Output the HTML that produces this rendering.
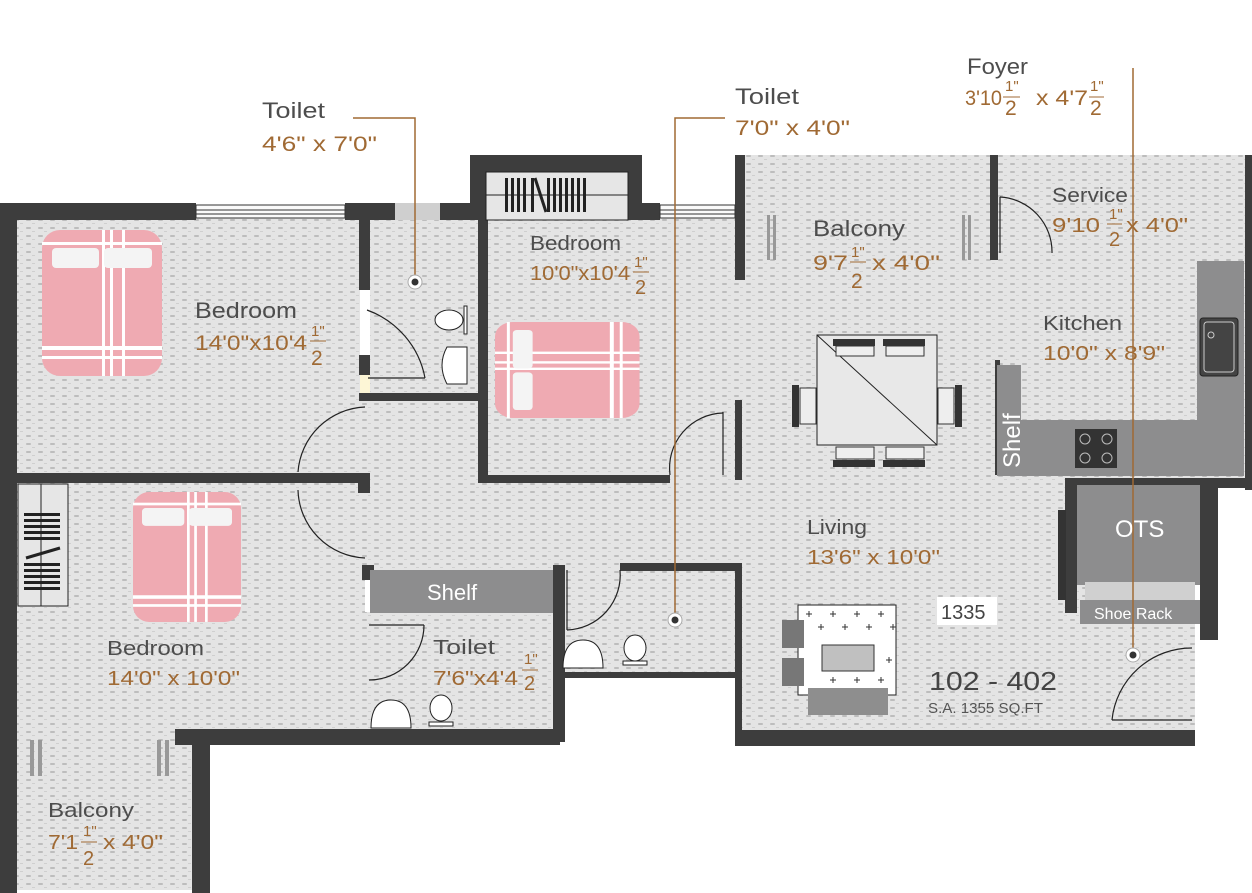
<!DOCTYPE html>
<html><head><meta charset="utf-8"><style>
html,body{margin:0;padding:0;background:#fff;width:1252px;height:893px;overflow:hidden}
svg{display:block;font-family:"Liberation Sans",sans-serif}
.n{fill:#4d4d4d;font-size:22px}
.d{fill:#a06a34;font-size:21px}
.f{fill:#a06a34;font-size:15px}
</style></head><body>
<svg width="1252" height="893" viewBox="0 0 1252 893">
<defs>
<pattern id="fl" width="12" height="8" patternUnits="userSpaceOnUse">
<rect width="12" height="8" fill="#e4e4e4"/>
<rect x="2" y="3" width="5" height="2" rx="1" fill="#bdbdbd"/>
<rect x="8" y="7" width="3" height="1" fill="#cfcfcf"/>
</pattern>
<g id="bedV">
<rect x="0" y="0" width="120" height="146" rx="18" fill="#efaab2"/>
<g fill="#fff"><rect x="0" y="12" width="120" height="3"/><rect x="0" y="116" width="120" height="4"/><rect x="0" y="126" width="120" height="3"/>
<rect x="60" y="0" width="3" height="146"/><rect x="68" y="0" width="3" height="146"/><rect x="80" y="0" width="3" height="146"/></g>
<rect x="10" y="18" width="47" height="20" rx="4" fill="#f4f4f4"/><rect x="62" y="18" width="48" height="20" rx="4" fill="#f4f4f4"/>
</g>
</defs>
<rect width="1252" height="893" fill="#fff"/>

<g fill="url(#fl)">
<rect x="15" y="218" width="350" height="262"/>
<rect x="365" y="218" width="115" height="265"/>
<rect x="485" y="218" width="255" height="262"/>
<rect x="15" y="480" width="725" height="90"/>
<rect x="15" y="570" width="350" height="170"/>
<rect x="362" y="612" width="195" height="130"/>
<rect x="557" y="565" width="183" height="112"/>
<rect x="740" y="155" width="505" height="325"/>
<rect x="740" y="480" width="455" height="258"/>
<rect x="15" y="740" width="178" height="150"/>
</g>

<g fill="#3d3d3d">
<rect x="0" y="203" width="196" height="17"/>
<rect x="345" y="203" width="50" height="17"/>
<rect x="440" y="203" width="32" height="17"/>
<rect x="470" y="155" width="172" height="65"/>
<rect x="628" y="203" width="32" height="17"/>
<rect x="0" y="203" width="17" height="690"/>
<rect x="359" y="218" width="11" height="72"/>
<rect x="359" y="355" width="11" height="20"/>
<rect x="359" y="393" width="125" height="8"/>
<rect x="478" y="218" width="10" height="265"/>
<rect x="480" y="475" width="190" height="8"/>
<rect x="735" y="155" width="10" height="125"/>
<rect x="735" y="400" width="7" height="80"/>
<rect x="15" y="473" width="345" height="10"/>
<rect x="358" y="473" width="12" height="20"/>
<rect x="362" y="565" width="12" height="15"/>
<rect x="175" y="729" width="385" height="16"/>
<rect x="192" y="740" width="18" height="153"/>
<rect x="553" y="565" width="12" height="62"/>
<rect x="553" y="627" width="12" height="115"/>
<rect x="620" y="563" width="120" height="8"/>
<rect x="560" y="672" width="180" height="6"/>
<rect x="735" y="563" width="7" height="182"/>
<rect x="735" y="730" width="460" height="16"/>
<rect x="990" y="155" width="8" height="105"/>
<rect x="1245" y="155" width="7" height="335"/>
<rect x="1070" y="478" width="180" height="10"/>
<rect x="1065" y="478" width="12" height="135"/>
<rect x="1200" y="478" width="18" height="162"/>
<rect x="995" y="360" width="5" height="115"/>
</g>
<rect x="360" y="290" width="10" height="65" fill="#fff"/>
<rect x="360" y="375" width="10" height="18" fill="#fdf6d6"/>
<rect x="395" y="203" width="45" height="17" fill="#cfcfcf"/>
<g fill="#fafafa" stroke="#333" stroke-width="1"><rect x="196" y="205" width="149" height="13"/><rect x="660" y="205" width="75" height="13"/></g>
<g stroke="#333"><line x1="196" y1="210" x2="345" y2="210"/><line x1="196" y1="214" x2="345" y2="214"/><line x1="660" y1="210" x2="735" y2="210"/><line x1="660" y1="214" x2="735" y2="214"/></g>
<rect x="486" y="172" width="142" height="48" fill="#e6e6e6" stroke="#222"/>
<line x1="486" y1="195" x2="628" y2="195" stroke="#222"/>
<g fill="#222"><rect x="505" y="178" width="3" height="34"/><rect x="511" y="178" width="3" height="34"/><rect x="517" y="178" width="3" height="34"/><rect x="523" y="178" width="3" height="34"/><rect x="531" y="178" width="3" height="34"/><rect x="547" y="178" width="3" height="34"/><rect x="553" y="178" width="3" height="34"/><rect x="559" y="178" width="3" height="34"/><rect x="565" y="178" width="3" height="34"/><rect x="571" y="178" width="3" height="34"/><rect x="577" y="178" width="3" height="34"/><rect x="583" y="178" width="3" height="34"/></g>
<line x1="535" y1="178" x2="546" y2="212" stroke="#222" stroke-width="3"/>
<rect x="18" y="484" width="50" height="122" fill="#e6e6e6" stroke="#222"/>
<line x1="41" y1="484" x2="41" y2="606" stroke="#222"/>
<g fill="#222"><rect x="24" y="513" width="36" height="3"/><rect x="24" y="519" width="36" height="3"/><rect x="24" y="525" width="36" height="3"/><rect x="24" y="531" width="36" height="3"/><rect x="24" y="537" width="36" height="3"/><rect x="24" y="563" width="36" height="3"/><rect x="24" y="569" width="36" height="3"/><rect x="24" y="575" width="36" height="3"/><rect x="24" y="581" width="36" height="3"/><rect x="24" y="587" width="36" height="3"/></g>
<line x1="26" y1="558" x2="60" y2="548" stroke="#222" stroke-width="3"/>

<use href="#bedV" x="42" y="230"/>
<g transform="translate(133,492) scale(0.9,0.89)"><use href="#bedV"/></g>
<g transform="translate(495,418) rotate(-90)"><g transform="scale(0.8,0.99)"><use href="#bedV"/></g></g>

<g fill="#999"><rect x="767" y="215" width="3" height="45"/><rect x="773" y="215" width="3" height="45"/><rect x="962" y="215" width="3" height="45"/><rect x="968" y="215" width="3" height="45"/>
<rect x="30" y="740" width="4" height="36"/><rect x="38" y="740" width="4" height="36"/><rect x="157" y="740" width="4" height="36"/><rect x="165" y="740" width="4" height="36"/></g>

<rect x="1197" y="261" width="47" height="215" fill="#8d8d8e"/>
<rect x="1000" y="420" width="244" height="56" fill="#8d8d8e"/>
<rect x="997" y="365" width="24" height="111" fill="#8d8d8e"/>
<rect x="1200" y="318" width="38" height="58" rx="3" fill="#444" stroke="#222"/>
<rect x="1204" y="322" width="30" height="50" rx="3" fill="none" stroke="#ccc"/>
<circle cx="1211" cy="335" r="3" fill="none" stroke="#ccc"/>
<rect x="1075" y="429" width="42" height="39" fill="#333"/>
<g fill="none" stroke="#bbb"><circle cx="1085" cy="439" r="5"/><circle cx="1107" cy="439" r="5"/><circle cx="1085" cy="458" r="5"/><circle cx="1107" cy="458" r="5"/></g>
<text transform="translate(1020,468) rotate(-90)" fill="#fff" font-size="24">Shelf</text>
<rect x="1077" y="485" width="123" height="100" fill="#8d8d8e"/>
<rect x="1085" y="582" width="110" height="18" fill="#d0d0d0"/>
<rect x="1080" y="600" width="120" height="24" fill="#8d8d8e"/>
<text x="1115" y="537" fill="#fff" font-size="24">OTS</text>
<text x="1094" y="619" fill="#fff" font-size="16">Shoe Rack</text>
<rect x="370" y="570" width="183" height="43" fill="#8d8d8e"/>
<text x="427" y="600" fill="#fff" font-size="22">Shelf</text>

<g fill="none" stroke="#222" stroke-width="1.2">
<path d="M367 310 A90 90 0 0 1 425 378"/><line x1="368" y1="378" x2="425" y2="378"/>
<path d="M365 407 A70 70 0 0 0 298 472"/><path d="M298 490 A70 70 0 0 0 365 558"/>
<path d="M723 413 A55 55 0 0 0 670 475"/><line x1="723" y1="412" x2="723" y2="475"/>
<line x1="369" y1="625" x2="424" y2="625"/><path d="M424 625 A55 55 0 0 1 369 680"/>
<line x1="567" y1="570" x2="567" y2="630"/><path d="M620 570 A55 55 0 0 1 567 630"/>
<line x1="1000" y1="197" x2="1000" y2="253"/><path d="M1000 197 A55 55 0 0 1 1052 253"/>
<line x1="1112" y1="720" x2="1192" y2="720"/><path d="M1192 648 A80 80 0 0 0 1112 720"/>
</g>
<g fill="#fff" stroke="#222"><ellipse cx="449" cy="320" rx="14" ry="10"/><rect x="464" y="306" width="3" height="28"/>
<path d="M467 347 L447 347 Q437 365 447 384 L467 384 Z"/>
<path d="M563 668 Q563 640 583 640 Q603 640 603 668 Z"/><ellipse cx="635" cy="648" rx="11" ry="13"/><rect x="623" y="661" width="24" height="4"/>
<path d="M371 728 Q371 700 391 700 Q411 700 411 728 Z"/><ellipse cx="441" cy="708" rx="11" ry="13"/><rect x="429" y="722" width="24" height="4"/>
<rect x="817" y="335" width="120" height="110" fill="#e8e8e8"/>
</g>
<line x1="817" y1="335" x2="937" y2="445" stroke="#222"/>
<g fill="#333"><rect x="833" y="339" width="42" height="7"/><rect x="883" y="339" width="42" height="7"/><rect x="833" y="460" width="42" height="7"/><rect x="883" y="460" width="42" height="7"/><rect x="792" y="385" width="7" height="42"/><rect x="955" y="385" width="7" height="42"/><rect x="1058" y="510" width="8" height="90"/></g>
<g fill="#eee" stroke="#333"><rect x="836" y="346" width="38" height="10"/><rect x="886" y="346" width="38" height="10"/><rect x="836" y="447" width="38" height="12"/><rect x="886" y="447" width="38" height="12"/><rect x="800" y="388" width="16" height="36"/><rect x="938" y="388" width="16" height="36"/></g>
<rect x="798" y="605" width="98" height="90" fill="#fff" stroke="#222"/>
<g stroke="#333" stroke-width="1"><path d="M806 614h6M809 611v6M830 614h6M833 611v6M854 614h6M857 611v6M878 614h6M881 611v6M818 627h6M821 624v6M842 627h6M845 624v6M866 627h6M869 624v6M890 627h6M893 624v6M886 660h6M889 657v6M830 680h6M833 677v6M854 680h6M857 677v6M878 680h6M881 677v6"/></g>
<rect x="822" y="645" width="52" height="26" fill="#c0c0c0" stroke="#333"/>
<rect x="808" y="688" width="80" height="27" fill="#8e8e8e"/>
<rect x="782" y="620" width="22" height="28" fill="#777"/><rect x="782" y="658" width="22" height="28" fill="#777"/>
<rect x="937" y="597" width="60" height="28" fill="#fff"/>
<text x="941" y="619" fill="#444" font-size="20">1335</text>
<text x="929" y="690" fill="#444" font-size="26" textLength="128" lengthAdjust="spacingAndGlyphs">102 - 402</text>
<text x="928" y="713" fill="#555" font-size="15" textLength="115" lengthAdjust="spacingAndGlyphs">S.A. 1355 SQ.FT</text>

<g stroke="#a06a34" stroke-width="1.5" fill="none">
<polyline points="353,118 415,118 415,282"/>
<polyline points="725,118 675,118 675,620"/>
<line x1="1133" y1="68" x2="1133" y2="655"/>
</g>
<g><circle cx="415" cy="282" r="7" fill="#fff" stroke="#aaa"/><circle cx="415" cy="282" r="3.5" fill="#333"/>
<circle cx="675" cy="620" r="7" fill="#fff" stroke="#aaa"/><circle cx="675" cy="620" r="3.5" fill="#333"/>
<circle cx="1133" cy="655" r="7" fill="#fff" stroke="#aaa"/><circle cx="1133" cy="655" r="3.5" fill="#333"/></g>

<g>
<text class="n" x="262" y="118" textLength="63" lengthAdjust="spacingAndGlyphs">Toilet</text>
<text class="d" x="262" y="151" textLength="115" lengthAdjust="spacingAndGlyphs">4'6" x 7'0"</text>
<text class="n" x="735" y="104" textLength="64" lengthAdjust="spacingAndGlyphs">Toilet</text>
<text class="d" x="735" y="135" textLength="115" lengthAdjust="spacingAndGlyphs">7'0" x 4'0"</text>
<text class="n" x="967" y="74" textLength="61" lengthAdjust="spacingAndGlyphs">Foyer</text>
<text class="d" x="965" y="105" textLength="37" lengthAdjust="spacingAndGlyphs">3'10</text>
<text class="f" x="1005" y="91">1"</text><line x1="1003" y1="97" x2="1020" y2="97" stroke="#a06a34"/><text class="d" x="1005" y="115">2</text>
<text class="d" x="1036" y="105" textLength="52" lengthAdjust="spacingAndGlyphs">x 4'7</text>
<text class="f" x="1090" y="91">1"</text><line x1="1089" y1="97" x2="1104" y2="97" stroke="#a06a34"/><text class="d" x="1090" y="115">2</text>

<text class="n" x="195" y="318" textLength="102" lengthAdjust="spacingAndGlyphs">Bedroom</text>
<text class="d" x="195" y="350" textLength="112" lengthAdjust="spacingAndGlyphs">14'0"x10'4</text>
<text class="f" x="311" y="336">1"</text><line x1="310" y1="341" x2="326" y2="341" stroke="#a06a34"/><text class="d" x="311" y="365">2</text>

<text class="n" x="530" y="250" textLength="91" lengthAdjust="spacingAndGlyphs" style="font-size:20px">Bedroom</text>
<text class="d" x="530" y="280" textLength="100" lengthAdjust="spacingAndGlyphs" style="font-size:20px">10'0"x10'4</text>
<text class="f" x="634" y="267">1"</text><line x1="633" y1="272" x2="649" y2="272" stroke="#a06a34"/><text class="d" x="635" y="294" style="font-size:20px">2</text>

<text class="n" x="813" y="236" textLength="92" lengthAdjust="spacingAndGlyphs">Balcony</text>
<text class="d" x="813" y="270" textLength="35" lengthAdjust="spacingAndGlyphs">9'7</text>
<text class="f" x="851" y="257">1"</text><line x1="850" y1="262" x2="866" y2="262" stroke="#a06a34"/><text class="d" x="851" y="288">2</text>
<text class="d" x="872" y="270" textLength="68" lengthAdjust="spacingAndGlyphs">x 4'0"</text>

<text class="n" x="1052" y="202" textLength="76" lengthAdjust="spacingAndGlyphs" style="font-size:20px">Service</text>
<text class="d" x="1052" y="232" textLength="48" lengthAdjust="spacingAndGlyphs" style="font-size:20px">9'10</text>
<text class="f" x="1109" y="219">1"</text><line x1="1107" y1="224" x2="1122" y2="224" stroke="#a06a34"/><text class="d" x="1109" y="246" style="font-size:20px">2</text>
<text class="d" x="1126" y="232" textLength="62" lengthAdjust="spacingAndGlyphs" style="font-size:20px">x 4'0"</text>

<text class="n" x="1043" y="330" textLength="79" lengthAdjust="spacingAndGlyphs" style="font-size:20px">Kitchen</text>
<text class="d" x="1043" y="360" textLength="122" lengthAdjust="spacingAndGlyphs" style="font-size:20px">10'0" x 8'9"</text>
<text class="n" x="807" y="534" textLength="60" lengthAdjust="spacingAndGlyphs" style="font-size:20px">Living</text>
<text class="d" x="807" y="564" textLength="133" lengthAdjust="spacingAndGlyphs" style="font-size:20px">13'6" x 10'0"</text>
<text class="n" x="107" y="655" textLength="97" lengthAdjust="spacingAndGlyphs" style="font-size:20px">Bedroom</text>
<text class="d" x="107" y="685" textLength="133" lengthAdjust="spacingAndGlyphs" style="font-size:20px">14'0" x 10'0"</text>
<text class="n" x="433" y="654" textLength="62" lengthAdjust="spacingAndGlyphs" style="font-size:20px">Toilet</text>
<text class="d" x="433" y="685" textLength="85" lengthAdjust="spacingAndGlyphs" style="font-size:20px">7'6"x4'4</text>
<text class="f" x="524" y="664">1"</text><line x1="522" y1="670" x2="538" y2="670" stroke="#a06a34"/><text class="d" x="524" y="690" style="font-size:20px">2</text>
<text class="n" x="48" y="817" textLength="86" lengthAdjust="spacingAndGlyphs" style="font-size:20px">Balcony</text>
<text class="d" x="48" y="849" textLength="30" lengthAdjust="spacingAndGlyphs" style="font-size:20px">7'1</text>
<text class="f" x="83" y="836">1"</text><line x1="81" y1="842" x2="97" y2="842" stroke="#a06a34"/><text class="d" x="83" y="865" style="font-size:20px">2</text>
<text class="d" x="103" y="849" textLength="60" lengthAdjust="spacingAndGlyphs" style="font-size:20px">x 4'0"</text>
</g>
</svg>
</body></html>
